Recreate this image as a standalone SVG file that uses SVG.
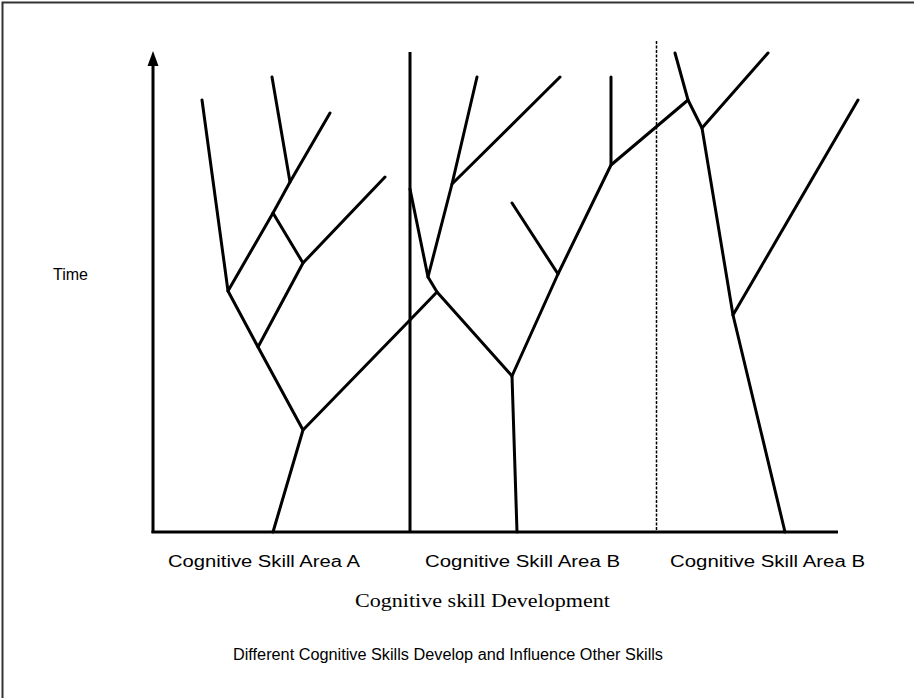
<svg xmlns="http://www.w3.org/2000/svg" width="914" height="698" viewBox="0 0 914 698">
<defs>
<style>
.br{fill:none;stroke:#000;stroke-width:3;stroke-linecap:round;stroke-linejoin:round}
.ax{fill:none;stroke:#000;stroke-width:3}
.lbl{font-family:"Liberation Sans",Arial,sans-serif;font-size:16px;fill:#000}
.ser{font-family:"Liberation Serif","Times New Roman",serif;font-size:19px;fill:#000}
</style>
</defs>
<rect width="914" height="698" fill="#fff"/>
<path d="M2.5,698 V2.5 H914" fill="none" stroke="#333" stroke-width="2"/>

<g id="axes">
<line class="ax" x1="153" y1="533" x2="153" y2="64"/>
<path d="M147.5,66 L153,51 L158.5,66 Z" fill="#000"/>
<line class="ax" x1="151.5" y1="532" x2="838" y2="532"/>
<line class="ax" x1="410" y1="52" x2="410" y2="532"/>
<line x1="656.5" y1="41" x2="656.5" y2="532" stroke="#000" stroke-width="1.5" stroke-dasharray="3 1.5"/>
</g>

<g id="connectors">
<g id="treeA">
<polyline class="br" points="273,532 303,430 258,347 228,291 202,100"/>
<polyline class="br" points="228,291 273,213 290,182 330,113"/>
<polyline class="br" points="290,182 272,77"/>
<polyline class="br" points="273,213 303,263 385,177"/>
<polyline class="br" points="303,263 258,347"/>
<polyline class="br" points="303,430 410,320 437,292 428,277 410,189"/>
</g>
<g id="treeB">
<polyline class="br" points="517,532 512,376 437,292"/>
<polyline class="br" points="428,277 452,184 477,77"/>
<polyline class="br" points="452,184 560,77"/>
<polyline class="br" points="512,203 558,274 512,376"/>
<polyline class="br" points="558,274 611,165 611,77"/>
<polyline class="br" points="611,165 688,100"/>
</g>
<g id="treeC">
<polyline class="br" points="675,53 688,100 702,128 733,315 785,532"/>
<polyline class="br" points="702,128 768,53"/>
<polyline class="br" points="733,315 858,100"/>
</g>
</g>

<g id="label-time"><text class="lbl" x="53" y="280" textLength="35" lengthAdjust="spacingAndGlyphs">Time</text></g>
<g id="label-a"><text class="lbl" x="168" y="567" textLength="192" lengthAdjust="spacingAndGlyphs">Cognitive Skill Area A</text></g>
<g id="label-b1"><text class="lbl" x="425" y="567" textLength="195" lengthAdjust="spacingAndGlyphs">Cognitive Skill Area B</text></g>
<g id="label-b2"><text class="lbl" x="670" y="567" textLength="195" lengthAdjust="spacingAndGlyphs">Cognitive Skill Area B</text></g>
<g id="label-x"><text class="ser" x="355" y="607" textLength="255" lengthAdjust="spacingAndGlyphs">Cognitive skill Development</text></g>
<g id="caption"><text class="lbl" x="233" y="660" textLength="430" lengthAdjust="spacingAndGlyphs">Different Cognitive Skills Develop and Influence Other Skills</text></g>
</svg>
